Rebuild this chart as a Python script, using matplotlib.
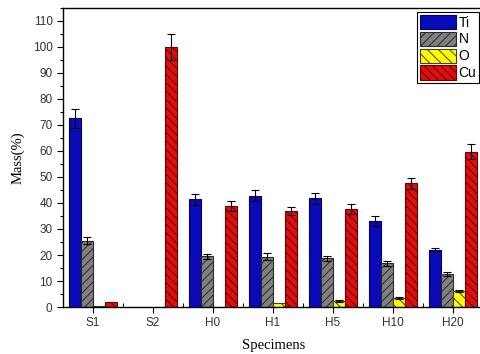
import numpy as np
import matplotlib
matplotlib.use('Agg')
import matplotlib.pyplot as plt
from matplotlib.ticker import MultipleLocator, FixedLocator

specimens = ['S1', 'S2', 'H0', 'H1', 'H5', 'H10', 'H20']
elements = ['Ti', 'N', 'O', 'Cu']

ti = [72.6, 0, 41.4, 42.8, 41.8, 33.1, 21.9]
ti_err = [3.6, 0, 2.0, 2.1, 2.2, 1.8, 0.9]
n = [25.5, 0, 19.5, 19.4, 18.7, 16.8, 12.7]
n_err = [1.3, 0, 1.0, 1.2, 1.0, 0.9, 0.8]
o = [0.3, 0, 0, 1.4, 2.4, 3.5, 6.0]
o_err = [0, 0, 0, 0, 0.3, 0.3, 0.4]
cu = [1.8, 100.0, 39.0, 36.8, 37.7, 47.6, 59.7]
cu_err = [0, 4.9, 1.9, 1.5, 1.9, 2.1, 2.8]

values = [ti, n, o, cu]
errors = [ti_err, n_err, o_err, cu_err]
faces = ['#0a0ab8', '#808080', '#ffff00', '#dc1010']
edges = ['#00006a', '#2a2a2a', '#404020', '#6a0000']
hatches = [None, '////', '\\\\\\', '\\\\\\\\']

plt.rcParams['font.family'] = ['Liberation Sans', 'DejaVu Sans']
plt.rcParams['hatch.linewidth'] = 0.7

fig = plt.figure(figsize=(4.81, 3.54), dpi=100)
ax = fig.add_axes([63 / 481, 1 - 307 / 354, (484 - 63) / 481, (307 - 8) / 354])

x = np.arange(1, len(specimens) + 1)
w = 0.2
for i, el in enumerate(elements):
    pos = x + (i - 1.5) * w
    ax.bar(pos, values[i], w, color=faces[i], edgecolor=edges[i], hatch=hatches[i],
           linewidth=0.8, label=el, zorder=2)
    err = np.array(errors[i])
    m = err > 0
    ax.errorbar(pos[m], np.array(values[i])[m], yerr=err[m], fmt='none', ecolor='black',
                elinewidth=0.8, capsize=3, capthick=0.8, zorder=3)

ax.set_xlim(0.5, 7.52)
ax.set_ylim(0, 115)
ax.set_xticks(x)
ax.set_xticklabels(specimens)
ax.xaxis.set_minor_locator(FixedLocator(x[:-1] + 0.5))
ax.yaxis.set_major_locator(MultipleLocator(10))
ax.yaxis.set_minor_locator(MultipleLocator(5))
ax.set_yticks(np.arange(0, 111, 10))
ax.tick_params(axis='both', which='major', direction='out', length=4, width=0.8,
               labelsize=8.5, colors='black', labelcolor='#333333')
ax.tick_params(axis='y', which='minor', direction='out', length=2.5, width=0.8)
ax.tick_params(axis='x', which='minor', direction='in', length=3, width=0.8)
for s in ax.spines.values():
    s.set_linewidth(1.0)

ax.set_xlabel('Specimens', family=['Liberation Serif'], fontsize=10.5, labelpad=7)
ax.set_ylabel('Mass(%)', family=['Liberation Serif'], fontsize=10.5, labelpad=6)

leg = ax.legend(loc='upper right', bbox_to_anchor=(479 / 481, 1 - 12 / 354),
                bbox_transform=fig.transFigure, fontsize=10, handlelength=2.6,
                handleheight=1.2, labelspacing=0.15, borderpad=0.2,
                handletextpad=0.2, borderaxespad=0, fancybox=False, framealpha=1)
leg.get_frame().set_edgecolor('black')
leg.get_frame().set_linewidth(0.8)

plt.savefig('out.png', dpi=100)
plt.close()
